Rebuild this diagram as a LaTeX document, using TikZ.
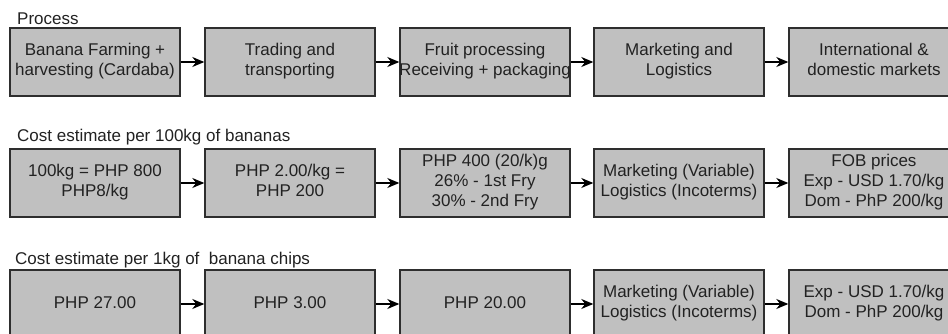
\documentclass[tikz,border=0pt]{standalone}
\usepackage{fontspec}
\setmainfont{Liberation Sans}
\usetikzlibrary{arrows.meta}
\definecolor{boxfill}{HTML}{C0C0C0}
\definecolor{boxline}{HTML}{2E2E2E}
\definecolor{txt}{HTML}{222222}
\tikzset{
  stagebox/.style={draw=boxline, line width=1.4pt, fill=boxfill, minimum width=170pt, minimum height=68pt,
    inner sep=0pt, align=center, text=txt, font=\fontsize{17}{20}\selectfont,
    execute at begin node=\strut, execute at end node=\strut},
  flow/.style={draw=black, line width=1.4pt, -{Stealth[length=12pt,width=10pt]}},
  rowtitle/.style={anchor=base west, inner sep=0pt, text=txt, font=\fontsize{17}{20}\selectfont}
}
\begin{document}
\begin{tikzpicture}[x=1pt,y=-1pt]
\useasboundingbox (0,0) rectangle (948,334);
\clip (0,0) rectangle (948,334);
\fill[white] (0,0) rectangle (948,334);

% Row 1
\node[rowtitle] (t1) at (17,25) {Process};
\node[stagebox] (a1) at (95,62) {Banana Farming +\\harvesting (Cardaba)};
\node[stagebox] (a2) at (290,62) {Trading and\\transporting};
\node[stagebox] (a3) at (485,62) {Fruit processing\\\makebox[0pt]{Receiving + packaging}};
\node[stagebox] (a4) at (679,62) {Marketing and\\Logistics};
\node[stagebox] (a5) at (874,62) {International \&\\domestic markets};

% Row 2
\node[rowtitle] (t2) at (17,142) {Cost estimate per 100kg of bananas};
\node[stagebox] (b1) at (95,183) {100kg = PHP 800\\PHP8/kg};
\node[stagebox] (b2) at (290,183) {PHP 2.00/kg =\\PHP 200};
\node[stagebox] (b3) at (485,183) {PHP 400 (20/k)g\\26\% - 1st Fry\\30\% - 2nd Fry};
\node[stagebox] (b4) at (679,183) {Marketing (Variable)\\Logistics (Incoterms)};
\node[stagebox] (b5) at (874,183) {FOB prices\\Exp - USD 1.70/kg\\Dom - PhP 200/kg};

% Row 3
\node[rowtitle] (t3) at (15,264) {Cost estimate per 1kg of\ \ banana chips};
\node[stagebox] (c1) at (95,304) {PHP 27.00};
\node[stagebox] (c2) at (290,304) {PHP 3.00};
\node[stagebox] (c3) at (485,304) {PHP 20.00};
\node[stagebox] (c4) at (679,304) {Marketing (Variable)\\Logistics (Incoterms)};
\node[stagebox] (c5) at (874,304) {Exp - USD 1.70/kg\\Dom - PhP 200/kg};

\foreach \r in {a,b,c}{
  \draw[flow] (\r1.east) -- (\r2.west);
  \draw[flow] (\r2.east) -- (\r3.west);
  \draw[flow] (\r3.east) -- (\r4.west);
  \draw[flow] (\r4.east) -- (\r5.west);
}
\end{tikzpicture}
\end{document}
